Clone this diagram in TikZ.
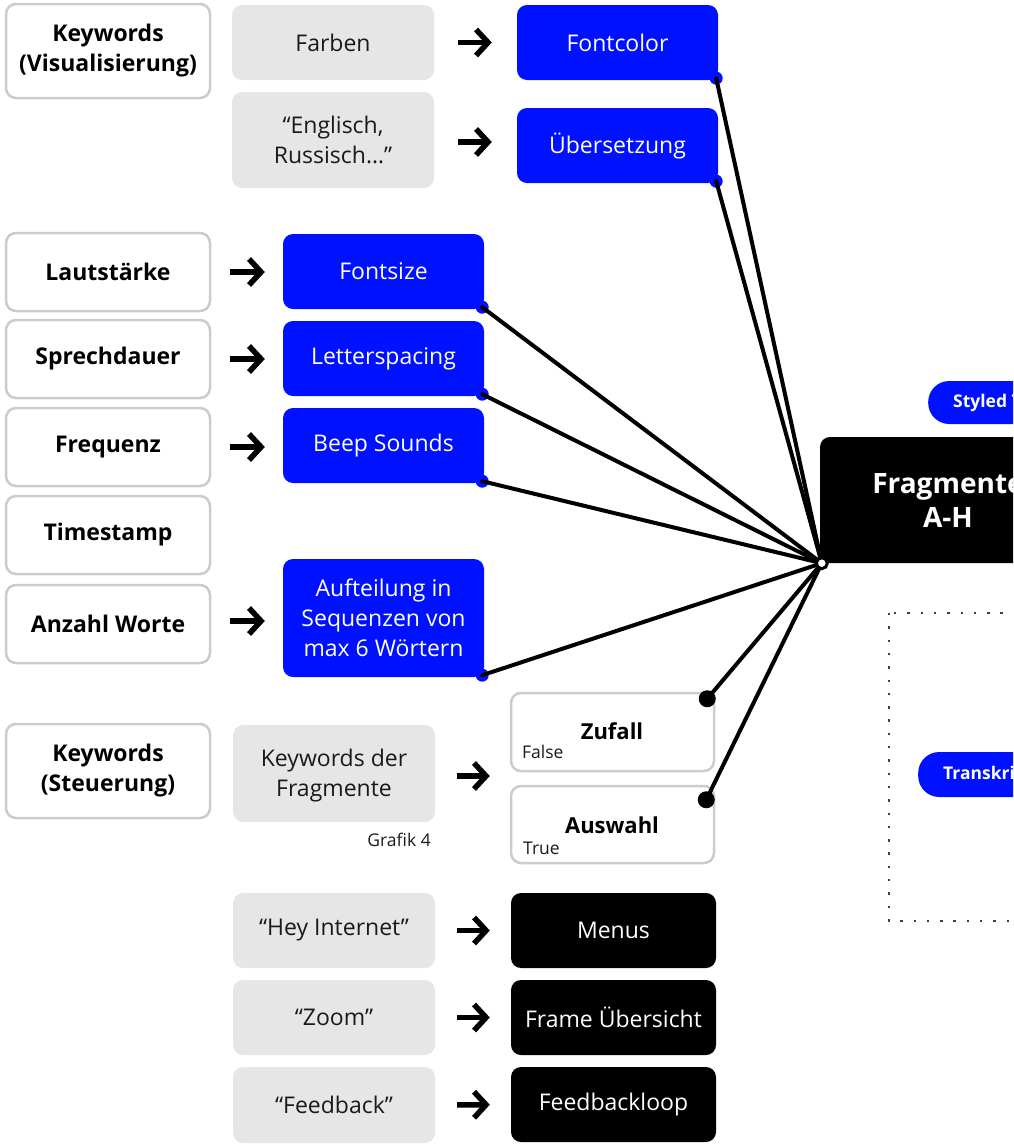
\documentclass[tikz,border=0pt]{standalone}
\usepackage{fontspec}
\setmainfont{Open Sans}
\usetikzlibrary{arrows.meta,calc}

\definecolor{vivid}{HTML}{0011FF}
\definecolor{panel}{HTML}{E6E6E6}
\definecolor{rim}{HTML}{CCCCCC}
\definecolor{ink}{HTML}{1A1A1A}

\tikzset{
  base/.style={rounded corners=10pt, align=center, inner sep=0pt,
    font=\fontsize{23}{30}\selectfont},
  keybox/.style={base, draw=rim, line width=2.5pt, fill=white,
    minimum width=204pt, font=\fontsize{23}{30}\selectfont\bfseries},
  graybox/.style={base, fill=panel, text=ink, minimum width=202pt},
  bluebox/.style={base, fill=vivid, text=white, minimum width=201pt},
  optbox/.style={base, draw=rim, line width=2.5pt, fill=white,
    minimum width=203pt},
  blackbox/.style={base, fill=black, text=white, minimum width=205pt,
    minimum height=75pt},
  pill/.style={fill=vivid, text=white, rounded corners=21pt, anchor=west,
    inner xsep=25pt, inner ysep=0pt,
    font=\fontsize{17.5}{21}\selectfont\bfseries},
  small/.style={inner sep=0pt, text=ink, font=\fontsize{17.5}{20}\selectfont},
  go/.style={line width=5.5pt, -{Straight Barb[length=12pt,width=26pt]}},
  spoke/.style={line width=4pt, line cap=round},
  bluedot/.style={fill=vivid},
}

\begin{document}
\begin{tikzpicture}[x=1pt, y=-1pt]
\useasboundingbox (0,0) rectangle (1013,1144);
\clip (0,0) rectangle (1013,1144);

% ---- input categories (left column)
\node[keybox, minimum height=94pt] (kwvis)  at (108,51)  {Keywords\\(Visualisierung)};
\node[keybox, minimum height=78pt] (laut)   at (108,272) {Lautstärke};
\node[keybox, minimum height=78pt] (sprech) at (108,359) {Sprechdauer};
\node[keybox, minimum height=78pt] (freq)   at (108,447) {Frequenz};
\node[keybox, minimum height=78pt] (tstamp) at (108,535) {Timestamp};
\node[keybox, minimum height=78pt] (anzahl) at (108,624) {Anzahl Worte};
\node[keybox, minimum height=94pt] (kwsteu) at (108,771) {Keywords\\(Steuerung)};

% ---- spoken keywords
\node[graybox, minimum height=75pt] (farben)   at (333,42.5)  {Farben};
\node[graybox, minimum height=96pt] (englisch) at (333,140)   {“Englisch,\\Russisch…”};
\node[graybox, minimum height=97pt] (kdf)      at (334,773.5) {};
\node[base, text=ink] (kdftxt) at (334,775.5) {Keywords der\\Fragmente};
\node[graybox, minimum height=75pt] (hey)      at (334,930.5) {“Hey Internet”};
\node[graybox, minimum height=75pt] (zoomkw)   at (334,1017.5){“Zoom”};
\node[graybox, minimum height=76pt] (feedkw)   at (334,1105)  {“Feedback”};
\node[small, anchor=east] (grafik) at (431,840) {Grafik 4};

% ---- text styling parameters
\node[bluebox, minimum height=75pt]  (fontcolor) at (617.5,42.5)  {Fontcolor};
\node[bluebox, minimum height=75pt]  (uebers)    at (617.5,145.5) {Übersetzung};
\node[bluebox, minimum height=75pt]  (fontsize)  at (383.5,271.5) {Fontsize};
\node[bluebox, minimum height=75pt]  (letter)    at (383.5,358.5) {Letterspacing};
\node[bluebox, minimum height=75pt]  (beep)      at (383.5,445.5) {Beep Sounds};
\node[bluebox, minimum height=118pt] (aufteil)   at (383.5,618)   {Aufteilung in\\Sequenzen von\\max 6 Wörtern};

% ---- fragment selection
\node[optbox, minimum height=78pt] (zufall)  at (612.5,732)   {};
\node[optbox, minimum height=77pt] (auswahl) at (612.5,824.5) {};
\node[inner sep=0pt, font=\fontsize{22}{26}\selectfont\bfseries] (zufalltxt)  at (612,731) {Zufall};
\node[inner sep=0pt, font=\fontsize{22}{26}\selectfont\bfseries] (auswahltxt) at (612,825) {Auswahl};
\node[small, anchor=west] (falsetxt) at (522,752) {False};
\node[small, anchor=west] (truetxt)  at (523,848) {True};

% ---- navigation commands
\node[blackbox] (menus) at (613.5,930.5)  {Menus};
\node[blackbox] (frame) at (613.5,1017.5) {Frame Übersicht};
\node[blackbox] (fbloop) at (613.5,1104.5) {Feedbackloop};

% ---- output side
\draw[black!75, line width=2.4pt, dash pattern=on 2.4pt off 10.9pt]
  (889,613) rectangle (1130,921);
\node[pill, minimum height=43pt] (styled) at (928,402.5) {Styled Text};
\node[pill, minimum height=45pt] (transkr) at (918,774.5) {Transkription};
\node[base, fill=black, text=white, minimum width=256pt, minimum height=126pt,
  font=\fontsize{28}{34}\selectfont\bfseries] (fragm) at (948,500) {Fragmente\\A-H};

% ---- arrows
\draw[go, shorten <=24pt, shorten >=25pt] (farben) -- (fontcolor);
\draw[go, shorten <=24pt, shorten >=25pt] ($(englisch.east)+(0,2)$) -- ($(englisch.east -| uebers.west)+(0,2)$);
\draw[go, shorten <=19pt, shorten >=18pt] (laut) -- (laut -| fontsize.west);
\draw[go, shorten <=19pt, shorten >=18pt] (sprech) -- (sprech -| letter.west);
\draw[go, shorten <=19pt, shorten >=18pt] (freq) -- (freq -| beep.west);
\draw[go, shorten <=19pt, shorten >=18pt] ($(anzahl.east)+(0,-3)$) -- ($(anzahl.east -| aufteil.west)+(0,-3)$);
\draw[go, shorten <=22pt, shorten >=20pt] ($(kdf.east)+(0,2.5)$) -- ($(kdf.east -| zufall.west)+(0,2.5)$);
\draw[go, shorten <=22pt, shorten >=21pt] (hey) -- (menus);
\draw[go, shorten <=22pt, shorten >=21pt] (zoomkw) -- (frame);
\draw[go, shorten <=22pt, shorten >=21pt] (feedkw) -- (fbloop);

% ---- spokes into the fragment hub
\coordinate (hub) at ($(fragm.south west)+(2,0)$);
\foreach \n/\c in {fontcolor/fcdot, uebers/uedot, fontsize/fsdot,
                   letter/lsdot, beep/bsdot, aufteil/audot} {
  \coordinate (\c) at ($(\n.south east)+(-2,-2)$);
  \fill[bluedot] (\c) circle (6.5pt);
}
\coordinate (zfdot) at ($(zufall.north east)+(-8,7)$);
\coordinate (awdot) at ($(auswahl.north east)+(-9,15)$);
\foreach \c in {fcdot, uedot, fsdot, lsdot, bsdot, audot, zfdot, awdot}
  \draw[spoke] (\c) -- (hub);
\fill (zfdot) circle (8.5pt);
\fill (awdot) circle (8.5pt);
\draw[line width=3pt, fill=white] (hub) circle (5.5pt);
\end{tikzpicture}
\end{document}
